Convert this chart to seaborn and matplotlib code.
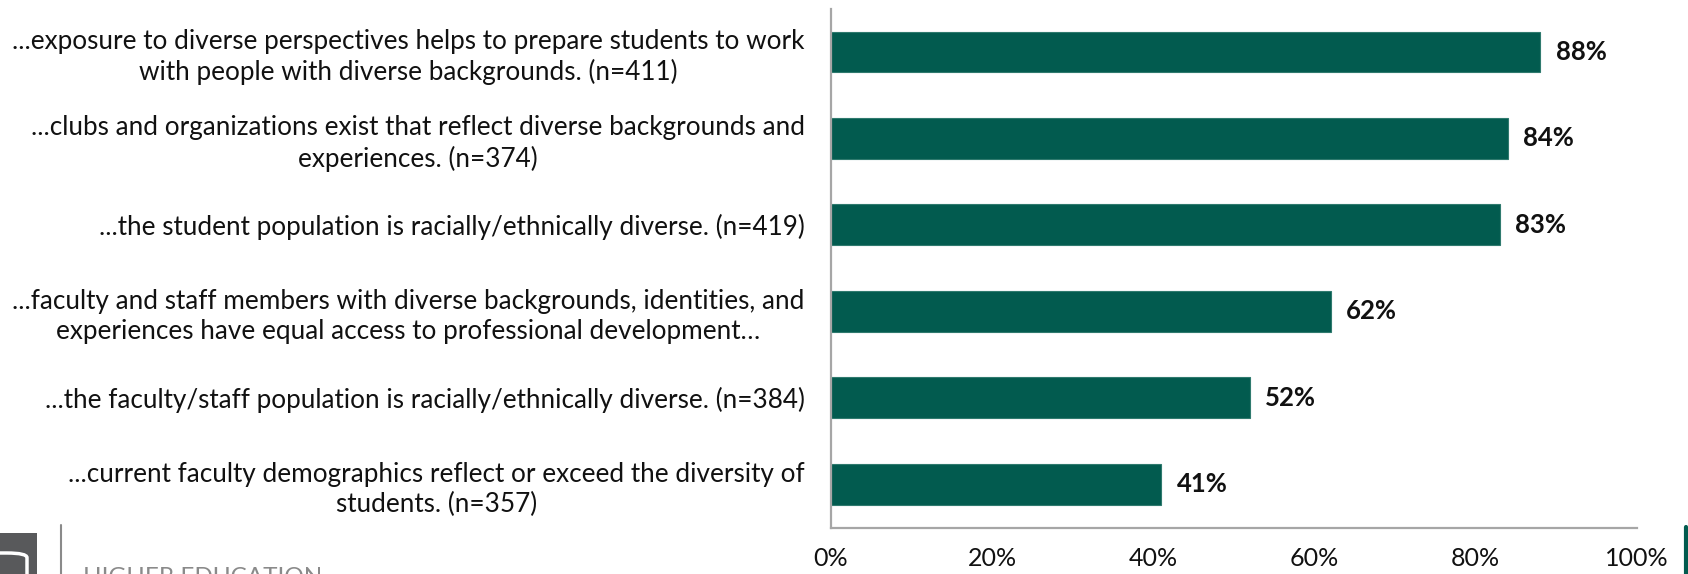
import matplotlib
matplotlib.use("Agg")
import matplotlib.pyplot as plt
import seaborn as sns
import pandas as pd
from matplotlib.patches import Rectangle, FancyBboxPatch
from matplotlib.lines import Line2D

# Survey statements (agreement share, %)
statements = [
    "...exposure to diverse perspectives helps to prepare students to work\nwith people with diverse backgrounds. (n=411)",
    "...clubs and organizations exist that reflect diverse backgrounds and\nexperiences. (n=374)",
    "...the student population is racially/ethnically diverse. (n=419)",
    "...faculty and staff members with diverse backgrounds, identities, and\nexperiences have equal access to professional development\u2026",
    "...the faculty/staff population is racially/ethnically diverse. (n=384)",
    "...current faculty demographics reflect or exceed the diversity of\nstudents. (n=357)",
]
agree_pct = [88, 84, 83, 62, 52, 41]
x_ticks = [0, 20, 40, 60, 80, 100]
x_tick_labels = ["0%", "20%", "40%", "60%", "80%", "100%"]

BAR = "#025B4F"
AXIS = "#a6a6a6"
GREY = "#8a8a8a"

sns.set_theme(style="white")
plt.rcParams["font.family"] = ["Lato", "DejaVu Sans"]

W, H = 1688, 574
fig = plt.figure(figsize=(W / 100, H / 100), dpi=100)
fig.patch.set_facecolor("white")

left, right, top, bottom = 831, 1637, 8.6, 527.5
ax = fig.add_axes([left / W, 1 - bottom / H, (right - left) / W, (bottom - top) / H])

df = pd.DataFrame({"statement": statements, "pct": agree_pct})
sns.barplot(data=df, y="statement", x="pct", color=BAR, saturation=1,
            width=0.47, ax=ax, edgecolor="#2f7a6e", linewidth=0.8)

ax.bar_label(ax.containers[0], labels=[f"{v}%" for v in agree_pct],
             padding=11, fontsize=18.5, fontweight="bold", color="#111111")

ax.set_xlim(0, 100)
ax.set_xticks(x_ticks)
ax.set_xticklabels(x_tick_labels, fontsize=18, color="#111111")
ax.set_xlabel("")
ax.set_ylabel("")
for lab in ax.get_yticklabels():
    lab.set_fontsize(18.8)
    lab.set_color("#111111")
    lab.set_multialignment("center")
    lab.set_linespacing(1.25)
ax.tick_params(axis="y", length=0, pad=19)
ax.tick_params(axis="x", length=0, pad=14)

for side in ("top", "right"):
    ax.spines[side].set_visible(False)
for side in ("left", "bottom"):
    ax.spines[side].set_color(AXIS)
    ax.spines[side].set_linewidth(1.6)
ax.grid(False)

# Footer branding, bottom-left
def fx(px):
    return px / W

def fy(py):
    return 1 - py / H

fig.add_artist(Rectangle((fx(0), fy(590)), fx(37), (590 - 533) / H,
                         transform=fig.transFigure, facecolor="#58595b",
                         edgecolor="none"))
fig.add_artist(FancyBboxPatch((fx(-30), fy(600)), fx(57), (600 - 553) / H,
                              boxstyle="round,pad=0,rounding_size=0.012",
                              transform=fig.transFigure, facecolor="none",
                              edgecolor="white", linewidth=2.5,
                              mutation_aspect=H / W * 2))
fig.add_artist(Line2D([fx(61), fx(61)], [fy(525), fy(580)],
                      transform=fig.transFigure, color=GREY, linewidth=1.5))
fig.text(fx(83), fy(567), "HIGHER EDUCATION", fontsize=17.5, color=GREY,
         ha="left", va="top")

# Accent bar, bottom-right
fig.add_artist(Line2D([fx(1686), fx(1686)], [fy(527), fy(580)],
                      transform=fig.transFigure, color=BAR, linewidth=3))

fig.savefig("out.png", dpi=100, facecolor="white")
